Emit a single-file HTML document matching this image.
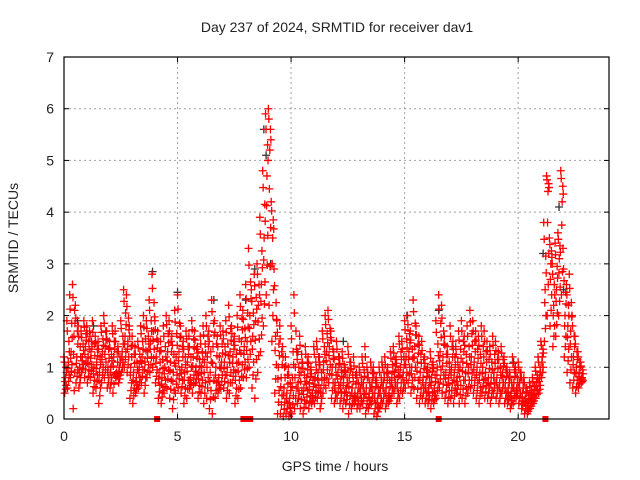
<!DOCTYPE html>
<html><head><meta charset="utf-8"><style>
body{margin:0;background:#fff;}
svg{display:block;font-family:"Liberation Sans",sans-serif;}
</style></head><body>
<svg id="chart" width="640" height="480" viewBox="0 0 640 480" xmlns="http://www.w3.org/2000/svg">
<rect width="640" height="480" fill="#fff"/>
<g id="grid"></g>
<g id="marks"></g>
<rect x="64" y="57" width="545" height="362" fill="none" stroke="#000" stroke-width="1.2"/>
<g id="ticks" font-size="14" fill="#222"></g>
<text x="337" y="32" font-size="14" text-anchor="middle" fill="#222">Day 237 of 2024, SRMTID for receiver dav1</text>
<text x="335" y="471" font-size="14" text-anchor="middle" fill="#222">GPS time / hours</text>
<text x="0" y="0" font-size="14" text-anchor="middle" fill="#222" transform="translate(18,238) rotate(-90)">SRMTID / TECUs</text>
</svg>
<script>
const times=[0,0.125,0.25,0.375,0.5,0.625,0.75,0.875,1,1.125,1.25,1.375,1.5,1.625,1.75,1.875,2,2.125,2.25,2.375,2.5,2.625,2.75,2.875,3,3.125,3.25,3.375,3.5,3.625,3.75,3.875,4,4.125,4.25,4.375,4.5,4.625,4.75,4.875,5,5.125,5.25,5.375,5.5,5.625,5.75,5.875,6,6.125,6.25,6.375,6.5,6.625,6.75,6.875,7,7.125,7.25,7.375,7.5,7.625,7.75,7.875,8,8.125,8.25,8.375,8.5,8.625,8.75,8.875,9,9.125,9.25,9.375,9.5,9.625,9.75,9.875,10,10.125,10.25,10.375,10.5,10.625,10.75,10.875,11,11.125,11.25,11.375,11.5,11.625,11.75,11.875,12,12.125,12.25,12.375,12.5,12.625,12.75,12.875,13,13.125,13.25,13.375,13.5,13.625,13.75,13.875,14,14.125,14.25,14.375,14.5,14.625,14.75,14.875,15,15.125,15.25,15.375,15.5,15.625,15.75,15.875,16,16.125,16.25,16.375,16.5,16.625,16.75,16.875,17,17.125,17.25,17.375,17.5,17.625,17.75,17.875,18,18.125,18.25,18.375,18.5,18.625,18.75,18.875,19,19.125,19.25,19.375,19.5,19.625,19.75,19.875,20,20.125,20.25,20.375,20.5,20.625,20.75,20.875,21,21.125,21.25,21.375,21.5,21.625,21.75,21.875,22,22.125,22.25,22.375,22.5,22.625,22.75];
const upperVals=[1.2,1.9,2.4,2.6,2.2,1.8,1.7,1.9, 1.8,1.7,1.9,1.6,1.5,1.8,2.0,1.7, 1.5,1.8,1.7,1.4,1.9,2.5,2.4,1.8, 1.6,1.4,1.5,1.8,2.0,1.9,2.3,2.8, 1.9,1.7,1.5,1.8,2.0,1.9,1.6,2.1, 2.4,1.8,1.5,1.7,1.6,1.9,1.7,1.4, 1.6,1.8,2.0,1.7,2.3,1.9,1.6,1.8, 1.7,1.9,2.2,1.8,1.6,2.0,2.4,2.1, 2.6,3.3,2.5,2.8,3.0,3.9,4.8,5.9, 6.0,4.2,2.9,1.9,1.8,1.4,1.2,1.0, 1.8,2.4,1.3,1.6,1.1,1.4,1.2,1.0, 1.4,1.5,1.2,1.7,2.0,2.1,1.7,1.3, 1.5,1.2,1.3,1.0,1.4,1.1,1.2,0.9, 1.0,1.2,1.4,0.9,1.1,1.0,0.8,1.0, 1.1,1.2,1.0,1.3,1.4,1.2,1.6,1.5, 1.9,2.0,1.7,2.3,1.8,1.6,1.5,1.2, 1.0,1.3,1.1,1.9,2.4,2.2,1.6,1.4, 1.8,1.5,1.4,1.7,1.9,1.6,1.8,2.1, 1.9,1.7,1.6,1.8,1.7,1.5,1.4,1.6, 1.5,1.3,1.4,1.2,1.0,0.9,1.2,1.0, 1.1,0.9,0.8,0.6,0.7,0.8,1.0,1.2, 1.5,3.8,4.7,3.5,3.0,3.4,3.6,4.8, 2.9,2.6,2.8,2.0,1.6,1.3,1.1];
const midVals=[0.8,1.1,1.3,1.6,1.2,1.0,1.2,1.4, 1.2,1.3,1.0,1.1,0.9,1.3,1.4,1.0, 1.0,1.2,0.9,1.0,1.3,1.6,1.5,1.0, 0.9,0.8,1.0,1.2,1.1,1.3,1.5,1.7, 1.2,0.9,0.8,1.0,1.3,1.1,0.9,1.2, 1.3,1.0,0.9,1.1,0.8,1.2,1.0,0.9, 1.0,1.1,1.2,0.9,1.4,1.0,0.8,1.1, 1.1,1.0,1.3,1.2,0.9,1.1,1.5,1.4, 1.5,2.0,1.6,1.9,2.2,2.6,3.5,4.7, 5.2,3.5,1.6,1.0,0.8,0.6,0.5,0.4, 0.8,1.0,0.7,0.9,0.6,0.8,0.7,0.5, 0.8,0.9,0.6,1.1,1.3,1.4,1.0,0.7, 0.9,0.7,0.8,0.6,0.8,0.6,0.5,0.5, 0.6,0.7,0.6,0.5,0.7,0.5,0.4,0.6, 0.7,0.6,0.5,0.8,0.9,0.7,1.0,0.9, 1.2,1.3,1.0,1.4,1.1,0.9,0.8,0.7, 0.6,0.8,0.6,1.0,1.3,1.2,0.9,0.8, 1.0,0.9,0.8,1.0,1.1,0.9,1.0,1.2, 1.1,1.0,0.9,1.0,0.9,0.8,0.8,0.9, 0.8,0.7,0.9,0.7,0.6,0.5,0.7,0.6, 0.7,0.5,0.4,0.3,0.4,0.5,0.7,0.8, 1.2,2.5,4.4,3.0,2.2,2.5,3.1,4.2, 2.0,1.8,1.7,1.2,1.0,0.9,0.8];
const lowVals=[0.5,0.6,0.8,0.2,0.7,0.6,0.9,0.8, 0.7,0.8,0.5,0.6,0.3,0.7,0.8,0.6, 0.6,0.5,0.8,0.7,0.9,1.0,0.9,0.4, 0.3,0.5,0.6,0.7,0.5,0.8,0.9,1.0, 0.7,0.4,0.3,0.5,0.6,0.4,0.2,0.5, 0.6,0.5,0.3,0.4,0.6,0.5,0.7,0.4, 0.5,0.3,0.4,0.2,0.1,0.4,0.5,0.6, 0.6,0.4,0.5,0.7,0.3,0.4,0.6,0.8, 0.8,1.0,0.6,0.4,0.9,1.3,1.8,2.4, 2.2,1.5,0.5,0.1,0.1,0.05,0.1,0.05, 0.1,0.2,0.3,0.2,0.1,0.3,0.2,0.3, 0.3,0.4,0.2,0.5,0.6,0.7,0.4,0.3, 0.4,0.3,0.2,0.3,0.1,0.2,0.3,0.2, 0.2,0.3,0.1,0.2,0.3,0.1,0.05,0.2, 0.3,0.2,0.3,0.4,0.5,0.3,0.4,0.5, 0.6,0.7,0.5,0.6,0.4,0.3,0.4,0.3, 0.3,0.2,0.3,0.4,0.6,0.5,0.4,0.3, 0.4,0.3,0.5,0.3,0.4,0.3,0.5,0.6, 0.5,0.4,0.3,0.5,0.4,0.4,0.3,0.5, 0.4,0.3,0.5,0.3,0.3,0.2,0.3,0.4, 0.3,0.2,0.1,0.1,0.2,0.3,0.4,0.5, 0.8,1.5,2.0,1.8,1.4,1.6,2.0,2.4, 1.2,0.9,0.7,0.6,0.5,0.6,0.7];
const blackTimes=[0.6,1.3,3.9,5.0,6.6,8.0,8.4,8.8,8.9,9.1,10.3,12.3,15.1,16.5,19.8,21.1,21.8,22.0];
const blackVals=[1.9,1.8,2.85,2.45,2.3,2.3,2.9,5.6,5.1,3.0,1.3,1.5,2.0,2.1,1.1,3.2,4.1,2.5];
const zeroMarkTimes=[4.1,7.9,8.05,8.2,16.5,21.2];
const xTicks=[0,5,10,15,20];
const yTicks=[0,1,2,3,4,5,6,7];

const X0=64,X1=609,Y0=419,Y1=57,XMAX=24,YMAX=7;
const xs=t=>X0+(X1-X0)*t/XMAX;
const ys=v=>Y0-(Y0-Y1)*v/YMAX;
const NS='http://www.w3.org/2000/svg';
const grid=document.getElementById('grid'),marks=document.getElementById('marks'),ticks=document.getElementById('ticks');
function mk(tag,attrs,parent){const e=document.createElementNS(NS,tag);for(const k in attrs)e.setAttribute(k,attrs[k]);parent.appendChild(e);return e;}
xTicks.forEach(t=>{
  const x=xs(t);
  if(t>0){const g=mk('line',{x1:x,y1:Y0,x2:x,y2:Y1,stroke:'#a0a0a0','stroke-dasharray':'2,3'},grid);
  
  }
  const l=mk('text',{x:x,y:Y0+22,'text-anchor':'middle'},ticks);l.textContent=t;
  
  
  mk('line',{x1:x,y1:Y0,x2:x,y2:Y0-5,stroke:'#000'},ticks);
  mk('line',{x1:x,y1:Y1,x2:x,y2:Y1+5,stroke:'#000'},ticks);
});
yTicks.forEach(v=>{
  const y=ys(v);
  if(v>0&&v<7){const g=mk('line',{x1:X0,y1:y,x2:X1,y2:y,stroke:'#a0a0a0','stroke-dasharray':'2,3'},grid);
  
  }
  const l=mk('text',{x:X0-10,y:y+5,'text-anchor':'end'},ticks);l.textContent=v;
  
  
  mk('line',{x1:X0,y1:y,x2:X0+5,y2:y,stroke:'#000'},ticks);
  mk('line',{x1:X1,y1:y,x2:X1-5,y2:y,stroke:'#000'},ticks);
});
function plus(x,y,col,name){
  const p=mk('path',{d:`M${x-4},${y}h8M${x},${y-4}v8`,stroke:col,'stroke-width':1.3,fill:'none'},marks);
  
  
}
blackTimes.forEach((t,i)=>plus(xs(t),ys(blackVals[i]),'#333','black-point'));
times.forEach((t,i)=>{
  const u=upperVals[i],m=midVals[i],l=lowVals[i];
  plus(xs(t),ys(u),'#f00','upper-point');
  plus(xs(t+0.0625),ys(m),'#f00','mid-point');
  plus(xs(t+0.03),ys(l),'#f00','low-point');
  plus(xs(t+0.09),ys((u+m)/2),'#f00','fill-point');
  plus(xs(t+0.1),ys((m+l)/2),'#f00','fill-point');
  plus(xs(t+0.02),ys((u*3+m)/4),'#f00','fill-point');
  plus(xs(t+0.045),ys((m*3+l)/4),'#f00','fill-point');
  plus(xs(t+0.11),ys((u+m*3)/4),'#f00','fill-point');
  plus(xs(t+0.075),ys((m+l*3)/4),'#f00','fill-point');
});
zeroMarkTimes.forEach(t=>{
  const r=mk('rect',{x:xs(t)-3,y:Y0-3,width:6,height:6,fill:'#f00'},marks);
  
  
});
</script>
</body></html>
